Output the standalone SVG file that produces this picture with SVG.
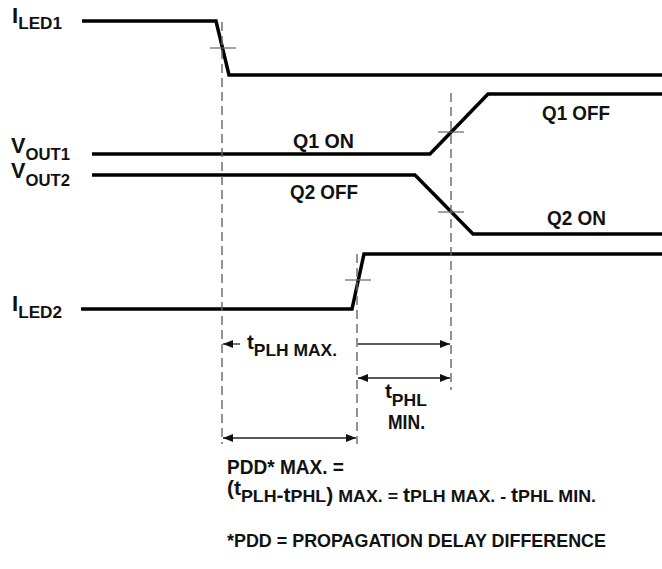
<svg xmlns="http://www.w3.org/2000/svg" width="662" height="569" viewBox="0 0 662 569">
<style>
text{font-family:"Liberation Sans",Arial,sans-serif;font-weight:bold;fill:#111;}
.m{font-size:22px;}
.s{font-size:17px;}
.t{font-size:20px;}
.q{font-size:21px;}
.f{font-size:19px;}
.sig{fill:none;stroke:#000;stroke-width:3.5;stroke-linejoin:miter;}
.dash{fill:none;stroke:#666;stroke-width:1.4;stroke-dasharray:9,5;}
.tick{fill:none;stroke:#666;stroke-width:1.2;}
.dim{fill:none;stroke:#222;stroke-width:1.3;}
</style>
<defs>
<marker id="ah" viewBox="0 0 10 8" refX="10" refY="4" markerWidth="10" markerHeight="8" markerUnits="userSpaceOnUse" orient="auto-start-reverse">
<path d="M0,0 L10,4 L0,8 Z" fill="#111"/>
</marker>
</defs>
<g id="waveforms">
<g id="iled1"><path class="sig" d="M82,21 H216 L229,75 H662"/><text class="m" x="12" y="23" textLength="50" lengthAdjust="spacingAndGlyphs">I<tspan class="s" y="29">LED1</tspan></text></g>
<g id="vout1"><path class="sig" d="M92,154 H430 L488,94 H662"/><text class="m" x="11" y="153" textLength="59" lengthAdjust="spacingAndGlyphs">V<tspan class="s" y="160">OUT1</tspan></text></g>
<g id="vout2"><path class="sig" d="M92,175 H415 L473,234 H662"/><text class="m" x="11" y="178" textLength="59" lengthAdjust="spacingAndGlyphs">V<tspan class="s" y="186">OUT2</tspan></text></g>
<g id="iled2"><path class="sig" d="M81,309 H352 L364,254 H662"/><text class="m" x="12" y="311" textLength="50" lengthAdjust="spacingAndGlyphs">I<tspan class="s" y="318">LED2</tspan></text></g>
<g id="labels">
<text class="q" x="293" y="148" textLength="61" lengthAdjust="spacingAndGlyphs">Q1 ON</text>
<text class="q" x="542" y="120" textLength="68" lengthAdjust="spacingAndGlyphs">Q1 OFF</text>
<text class="q" x="290" y="199" textLength="68" lengthAdjust="spacingAndGlyphs">Q2 OFF</text>
<text class="q" x="547" y="225" textLength="59" lengthAdjust="spacingAndGlyphs">Q2 ON</text>
</g>
</g>
<g id="connectors">
<line class="dash" x1="222" y1="22" x2="222" y2="444"/>
<line class="dash" x1="451" y1="93" x2="451" y2="390"/>
<line class="dash" x1="357" y1="254" x2="357" y2="444"/>
<line class="tick" x1="210" y1="48" x2="236" y2="48"/>
<line class="tick" x1="438" y1="132" x2="464" y2="132"/>
<line class="tick" x1="438" y1="212" x2="464" y2="212"/>
<line class="tick" x1="345" y1="280" x2="371" y2="280"/>
<line class="dim" x1="240" y1="344" x2="223" y2="344" marker-end="url(#ah)"/>
<line class="dim" x1="358" y1="344" x2="450" y2="344" marker-end="url(#ah)"/>
<line class="dim" x1="358" y1="378" x2="450" y2="378" marker-start="url(#ah)" marker-end="url(#ah)"/>
<line class="dim" x1="223" y1="438" x2="356" y2="438" marker-start="url(#ah)" marker-end="url(#ah)"/>
</g>
<g id="annotations">
<text class="t" x="247" y="349" textLength="90" lengthAdjust="spacingAndGlyphs">t<tspan class="s" y="356">PLH MAX.</tspan></text>
<text class="t" x="385" y="398" textLength="42" lengthAdjust="spacingAndGlyphs">t<tspan class="s" y="406">PHL</tspan></text>
<text class="q" x="388" y="429" textLength="37" lengthAdjust="spacingAndGlyphs">MIN.</text>
<text class="q" x="227" y="474" textLength="117" lengthAdjust="spacingAndGlyphs">PDD* MAX. =</text>
<text class="t" x="227" y="495" textLength="369" lengthAdjust="spacingAndGlyphs">(t<tspan class="s" y="502">PLH</tspan>-t<tspan class="s" y="502">PHL</tspan>)<tspan class="s" y="502"> MAX. =  </tspan>t<tspan class="s" y="502">PLH MAX. - </tspan>t<tspan class="s" y="502">PHL MIN.</tspan></text>
<text class="f" x="227" y="547" textLength="379" lengthAdjust="spacingAndGlyphs">*PDD = PROPAGATION DELAY DIFFERENCE</text>
</g>
</svg>
